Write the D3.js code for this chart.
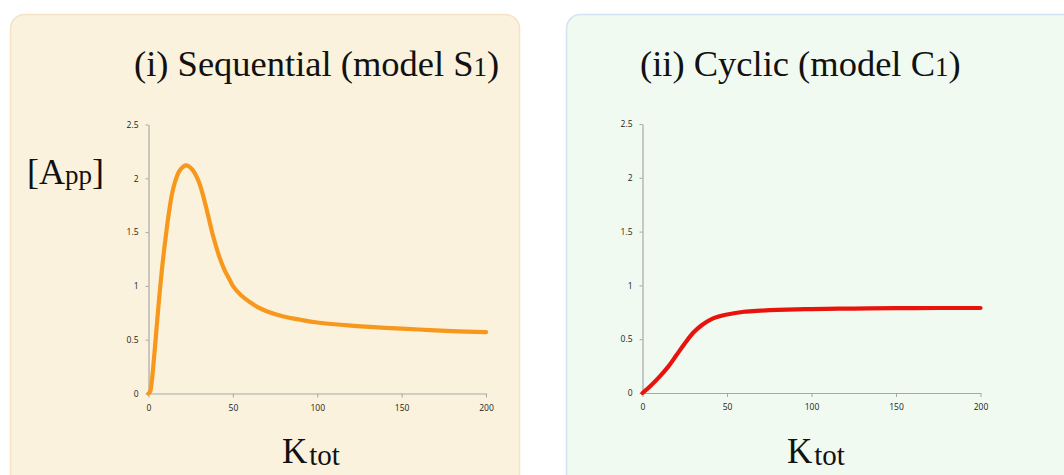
<!DOCTYPE html>
<html><head><meta charset="utf-8">
<script src="https://cdn.jsdelivr.net/npm/d3@7"></script>
<style>body{margin:0;background:#fff;}svg{display:block;}</style>
</head><body>
<script>
// Data
const seqK   = [0,1,2,3,4,5,6,7,8,9,10,12,14,16,18,20,22,24,26,28,30,32,34,36,38,40,42,45,48,50,55,60,65,70,80,90,100,120,140,160,180,200];
const seqApp = [0,0.02,0.12,0.28,0.46,0.65,0.83,1.0,1.16,1.3,1.43,1.67,1.86,1.98,2.06,2.1,2.12,2.11,2.08,2.03,1.96,1.86,1.74,1.61,1.48,1.37,1.27,1.15,1.06,1.0,0.91,0.85,0.8,0.765,0.715,0.685,0.66,0.63,0.61,0.595,0.58,0.57];
const cycK   = [0,5,10,15,20,25,30,35,40,45,50,60,70,80,100,125,150,175,200];
const cycApp = [0,0.07,0.15,0.24,0.35,0.46,0.56,0.63,0.68,0.71,0.73,0.755,0.765,0.772,0.78,0.785,0.788,0.79,0.79];
const xTicks = [0,50,100,150,200];
const yTicks = [0,0.5,1,1.5,2,2.5];
const yTickLabels = ["0","0.5","1","1.5","2","2.5"];

const W = 1064, H = 475;
const svg = d3.select("body").append("svg").attr("width", W).attr("height", H);

// Panels
svg.append("rect").attr("x",10.5).attr("y",14.5).attr("width",509).attr("height",475).attr("rx",14)
  .attr("fill","#faf2dc").attr("stroke","#f6e3c6").attr("stroke-width",1.5);
svg.append("rect").attr("x",566.5).attr("y",14.5).attr("width",520).attr("height",475).attr("rx",14)
  .attr("fill","#f0faf0").attr("stroke","#d3e3f1").attr("stroke-width",1.5);

function panel(cfg){
  const x = d3.scaleLinear().domain([0,200]).range([cfg.x0, cfg.x1]);
  const y = d3.scaleLinear().domain([0,2.5]).range([cfg.y0, cfg.y1]);
  const g = svg.append("g");
  const xa = g.append("g").attr("transform",`translate(0,${cfg.y0})`)
    .call(d3.axisBottom(x).tickValues(xTicks).tickSize(4).tickSizeOuter(0).tickPadding(7));
  const ya = g.append("g").attr("transform",`translate(${cfg.x0},0)`)
    .call(d3.axisLeft(y).tickValues(yTicks).tickFormat((d,i)=>yTickLabels[i]).tickSize(3).tickSizeOuter(0).tickPadding(7));
  [xa,ya].forEach(a=>{
    a.select(".domain").attr("stroke","#a8a8a8").attr("stroke-width",1.2);
    a.selectAll(".tick line").attr("stroke","#a8a8a8");
    a.selectAll("text").attr("font-family","'Open Sans', sans-serif").attr("font-size",8.5).attr("fill","#222");
  });
  const line = d3.line().x((d,i)=>x(cfg.k[i])).y(d=>y(d)).curve(d3.curveCatmullRom.alpha(0.5));
  g.append("path").datum(cfg.v).attr("d",line).attr("fill","none")
    .attr("stroke",cfg.color).attr("stroke-width",4.2).attr("stroke-linecap","round");
}
panel({x0:148.5,x1:486,y0:393.5,y1:124.5,k:seqK,v:seqApp,color:"#f7981d"});
panel({x0:642.5,x1:980.5,y0:393,y1:124,k:cycK,v:cycApp,color:"#e8130c"});

const serif = "'Liberation Serif','Times New Roman',serif";
function title(xp, yp, main, sub, tail, size, subSize, dy, dx){
  const t = svg.append("text").attr("x",xp).attr("y",yp).attr("font-family",serif)
    .attr("font-size",size).attr("fill","#111");
  t.append("tspan").text(main);
  t.append("tspan").attr("font-size",subSize).attr("dy",dy).attr("dx",dx||0).text(sub);
  if (tail) t.append("tspan").attr("dy",-dy).text(tail);
}
title(134, 76, "(i) Sequential (model S", "1", ")", 36.5, 27, 0);
title(640, 76, "(ii) Cyclic (model C", "1", ")", 36.5, 27, 0);
title(27, 184, "[A", "pp", "]", 36, 27, 0);
title(282, 463, "K", "tot", null, 35, 29, 2, 2);
title(787, 463, "K", "tot", null, 35, 29, 2, 2);
</script>
</body></html>
